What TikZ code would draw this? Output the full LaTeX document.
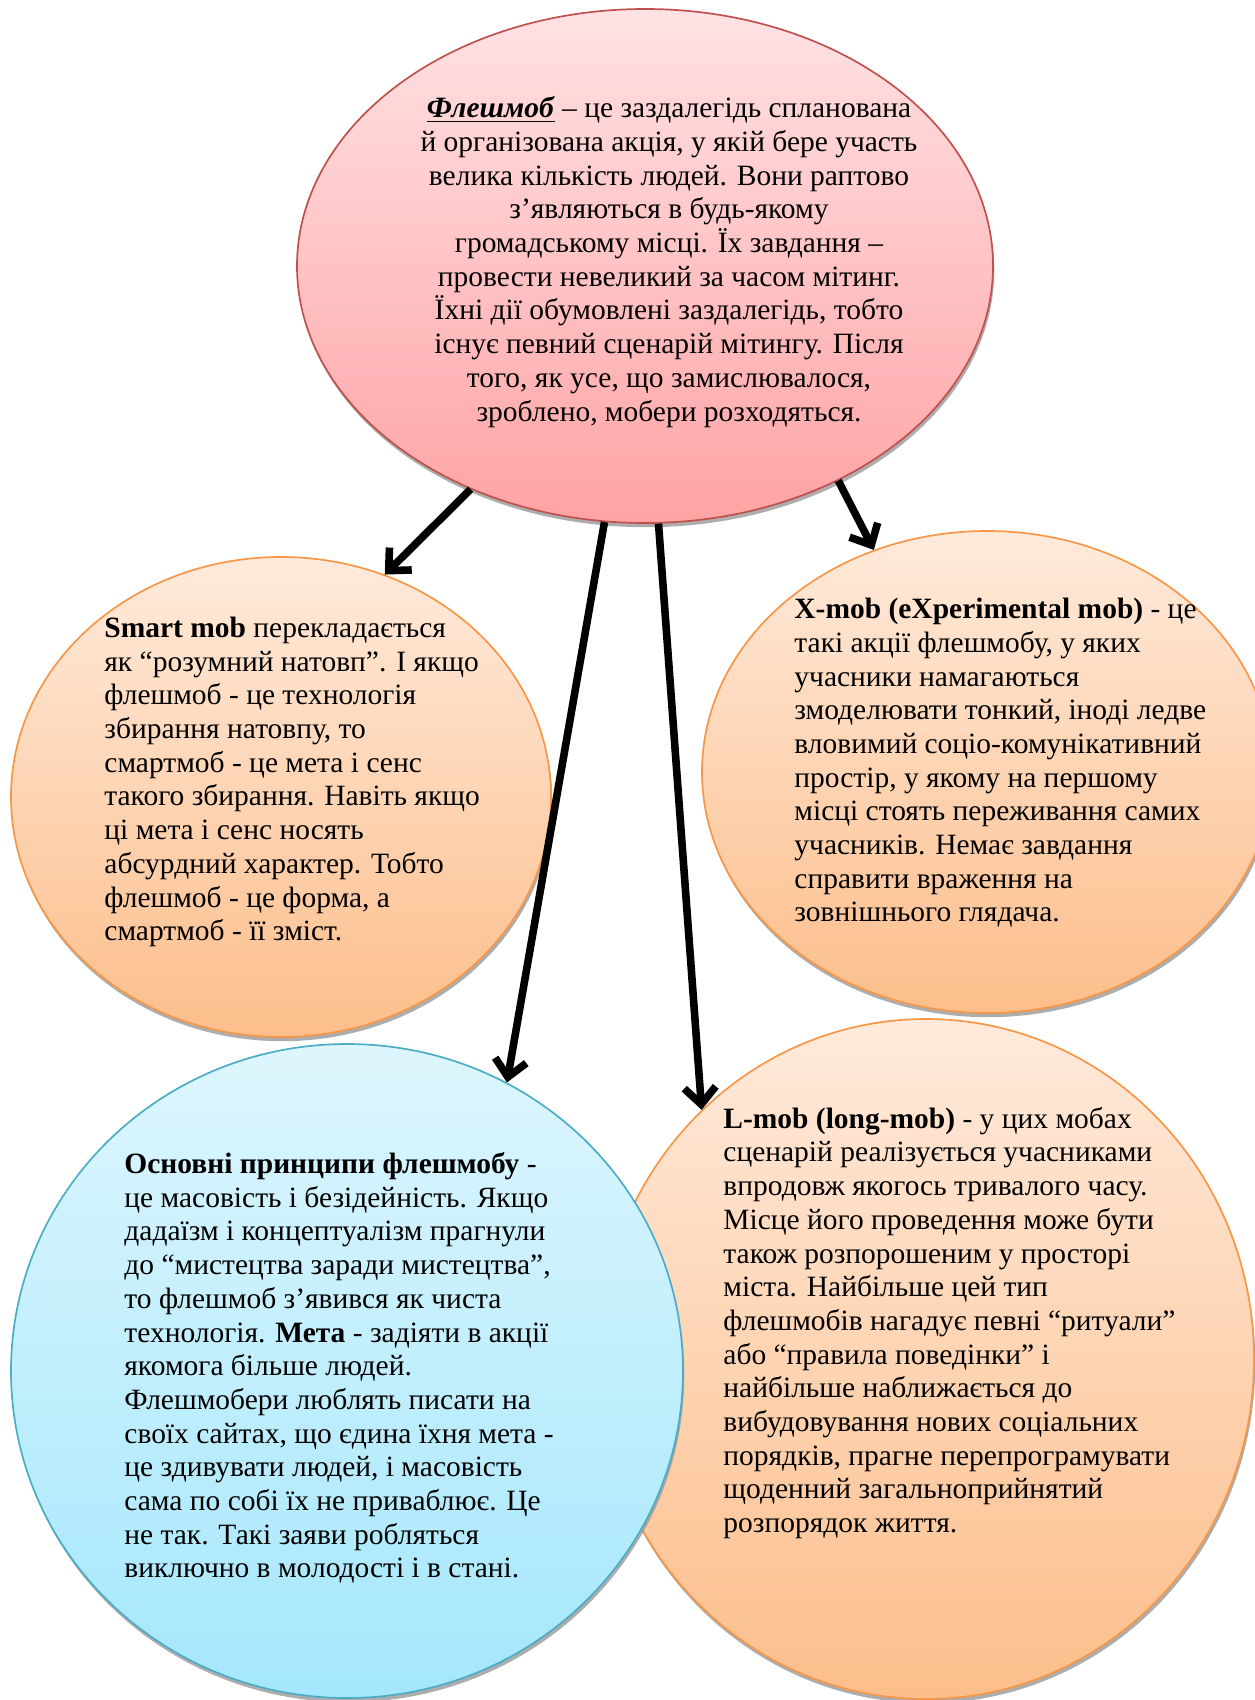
\documentclass[tikz,border=0pt]{standalone}
\usepackage{fontspec}
\setmainfont{Liberation Serif}
\usetikzlibrary{shapes.geometric,arrows.meta,shadows}
\definecolor{pinktop}{HTML}{FFE2E4}
\definecolor{pinkbot}{HTML}{FFA3A4}
\definecolor{pinkline}{HTML}{C0504D}
\definecolor{orangetop}{HTML}{FFEADB}
\definecolor{orangebot}{HTML}{FCBE8B}
\definecolor{orangeline}{HTML}{F79646}
\definecolor{bluetop}{HTML}{DEF6FD}
\definecolor{bluebot}{HTML}{A4E7FC}
\definecolor{blueline}{HTML}{4BACC6}
\newcommand{\pxu}{0.4749pt}

\begin{document}
\begin{tikzpicture}[x=\pxu, y=-\pxu,
  bubble/.style={ellipse, inner sep=0pt, line width=0.8pt,
    drop shadow={shadow xshift=0.6pt, shadow yshift=-2pt, fill=black!40, opacity=0.8}},
  redbubble/.style={bubble, draw=pinkline, top color=pinktop, bottom color=pinkbot},
  orangebubble/.style={bubble, draw=orangeline, top color=orangetop, bottom color=orangebot},
  bluebubble/.style={bubble, draw=blueline, top color=bluetop, bottom color=bluebot},
  txt/.style={inner sep=0pt, anchor=west, align=left, font=\fontsize{14pt}{16pt}\selectfont},
  link/.style={line width=3.6pt, -{Straight Barb[length=8pt,width=15pt]}}]
  \useasboundingbox (0,0) rectangle (1254,1700);

  \node[redbubble, minimum width=696*\pxu, minimum height=514*\pxu] (flash) at (645,266) {};
  \node[orangebubble, minimum width=540*\pxu, minimum height=480*\pxu] (smart) at (281,797) {};
  \node[orangebubble, minimum width=570*\pxu, minimum height=482*\pxu] (xmob) at (987,772) {};
  \node[orangebubble, minimum width=656*\pxu, minimum height=680*\pxu] (lmob) at (926,1359) {};
  \node[bluebubble, minimum width=672*\pxu, minimum height=654*\pxu] (basics) at (347,1371) {};

  \node[txt, anchor=center, align=center] (flashtxt) at (669,262) {\underline{\textbf{\textit{Флешмоб}}} – це заздалегідь спланована\\
    й організована акція, у якій бере участь\\
    велика кількість людей. Вони раптово\\
    з’являються в будь-якому\\
    громадському місці. Їх завдання –\\
    провести невеликий за часом мітинг.\\
    Їхні дії обумовлені заздалегідь, тобто\\
    існує певний сценарій мітингу. Після\\
    того, як усе, що замислювалося,\\
    зроблено, мобери розходяться.};

  \node[txt] (smarttxt) at (104,782) {\textbf{Smart mob} перекладається\\
    як “розумний натовп”. І якщо\\
    флешмоб - це технологія\\
    збирання натовпу, то\\
    смартмоб - це мета і сенс\\
    такого збирання. Навіть якщо\\
    ці мета і сенс носять\\
    абсурдний характер. Тобто\\
    флешмоб - це форма, а\\
    смартмоб - її зміст.};

  \node[txt] (xmobtxt) at (794,763) {\textbf{X-mob (eXperimental mob)} - це\\
    такі акції флешмобу, у яких\\
    учасники намагаються\\
    змоделювати тонкий, іноді ледве\\
    вловимий соціо-комунікативний\\
    простір, у якому на першому\\
    місці стоять переживання самих\\
    учасників. Немає завдання\\
    справити враження на\\
    зовнішнього глядача.};

  \node[txt] (lmobtxt) at (723,1323) {\textbf{L-mob (long-mob)} - у цих мобах\\
    сценарій реалізується учасниками\\
    впродовж якогось тривалого часу.\\
    Місце його проведення може бути\\
    також розпорошеним у просторі\\
    міста. Найбільше цей тип\\
    флешмобів нагадує певні “ритуали”\\
    або “правила поведінки” і\\
    найбільше наближається до\\
    вибудовування нових соціальних\\
    порядків, прагне перепрограмувати\\
    щоденний загальноприйнятий\\
    розпорядок життя.};

  \node[txt] (basicstxt) at (124,1368) {\textbf{Основні принципи флешмобу} -\\
    це масовість і безідейність. Якщо\\
    дадаїзм і концептуалізм прагнули\\
    до “мистецтва заради мистецтва”,\\
    то флешмоб з’явився як чиста\\
    технологія. \textbf{Мета} - задіяти в акції\\
    якомога більше людей.\\
    Флешмобери люблять писати на\\
    своїх сайтах, що єдина їхня мета -\\
    це здивувати людей, і масовість\\
    сама по собі їх не приваблює. Це\\
    не так. Такі заяви робляться\\
    виключно в молодості і в стані.};

  \foreach \from/\to in {flash.232/smart.65, flash.261/basics.61, flash.273/lmob.132, flash.312/xmob.117}
    \draw[link] (\from) -- (\to);
\end{tikzpicture}
\end{document}
